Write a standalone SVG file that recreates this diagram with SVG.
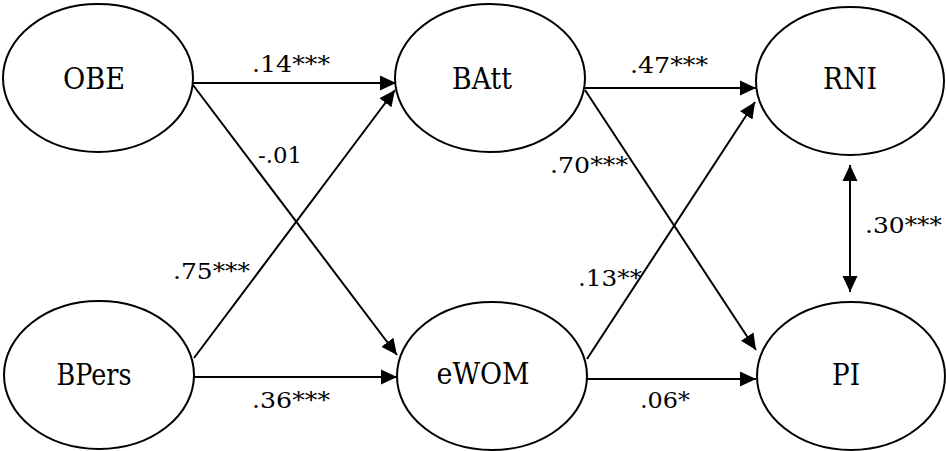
<svg xmlns="http://www.w3.org/2000/svg" width="946" height="451" viewBox="0 0 946 451">
<style>
.node{fill:#fff;stroke:#000;stroke-width:2}
text{font-family:'DejaVu Serif','Liberation Serif',serif;fill:#000}
.nl{font-size:29px;text-anchor:middle}
.el{font-size:23px}
.edge{stroke:#000;stroke-width:2;fill:none}
</style>
<defs>
<marker id="ah" viewBox="0 0 16 16" refX="16" refY="8" markerWidth="16" markerHeight="16" markerUnits="userSpaceOnUse" orient="auto-start-reverse">
<path d="M0,0.5 L16,8 L0,15.5 Z" fill="#000"/>
</marker>
</defs>
<rect width="946" height="451" fill="#fff"/>
<g id="connectors">
<line class="edge" x1="193" y1="83" x2="396" y2="83" marker-end="url(#ah)"/>
<line class="edge" x1="193" y1="85" x2="397" y2="355" marker-end="url(#ah)"/>
<line class="edge" x1="194" y1="358" x2="395" y2="90" marker-end="url(#ah)"/>
<line class="edge" x1="194" y1="377" x2="397" y2="377" marker-end="url(#ah)"/>
<line class="edge" x1="585" y1="88" x2="756" y2="88" marker-end="url(#ah)"/>
<line class="edge" x1="585" y1="90" x2="756" y2="350" marker-end="url(#ah)"/>
<line class="edge" x1="587" y1="359" x2="755" y2="102" marker-end="url(#ah)"/>
<line class="edge" x1="587" y1="379" x2="756" y2="379" marker-end="url(#ah)"/>
<line class="edge" x1="850" y1="165" x2="850" y2="292" marker-start="url(#ah)" marker-end="url(#ah)"/>
</g>
<g id="labels">
<text class="el" x="252" y="72" textLength="78" lengthAdjust="spacingAndGlyphs">.14***</text>
<text class="el" x="258" y="163" textLength="44" lengthAdjust="spacingAndGlyphs">-.01</text>
<text class="el" x="173" y="279" textLength="77" lengthAdjust="spacingAndGlyphs">.75***</text>
<text class="el" x="252" y="408" textLength="78" lengthAdjust="spacingAndGlyphs">.36***</text>
<text class="el" x="630" y="73" textLength="78" lengthAdjust="spacingAndGlyphs">.47***</text>
<text class="el" x="550" y="173" textLength="78" lengthAdjust="spacingAndGlyphs">.70***</text>
<text class="el" x="578" y="286" textLength="64" lengthAdjust="spacingAndGlyphs">.13**</text>
<text class="el" x="640" y="408" textLength="50" lengthAdjust="spacingAndGlyphs">.06*</text>
<text class="el" x="865" y="233" textLength="77" lengthAdjust="spacingAndGlyphs">.30***</text>
</g>
<g id="OBE"><ellipse class="node" cx="98" cy="78" rx="95" ry="74"/><text class="nl" x="94" y="89" textLength="62" lengthAdjust="spacingAndGlyphs">OBE</text></g>
<g id="BAtt"><ellipse class="node" cx="490" cy="78" rx="95" ry="74"/><text class="nl" x="482" y="89" textLength="60" lengthAdjust="spacingAndGlyphs">BAtt</text></g>
<g id="RNI"><ellipse class="node" cx="850" cy="81" rx="94" ry="74"/><text class="nl" x="850" y="89" textLength="54" lengthAdjust="spacingAndGlyphs">RNI</text></g>
<g id="BPers"><ellipse class="node" cx="99" cy="375" rx="95" ry="74"/><text class="nl" x="94" y="385" textLength="75" lengthAdjust="spacingAndGlyphs">BPers</text></g>
<g id="eWOM"><ellipse class="node" cx="492" cy="376" rx="95" ry="74"/><text class="nl" x="483" y="384" textLength="93" lengthAdjust="spacingAndGlyphs">eWOM</text></g>
<g id="PI"><ellipse class="node" cx="851" cy="376" rx="94" ry="74"/><text class="nl" x="846" y="385" textLength="28" lengthAdjust="spacingAndGlyphs">PI</text></g>
</svg>
